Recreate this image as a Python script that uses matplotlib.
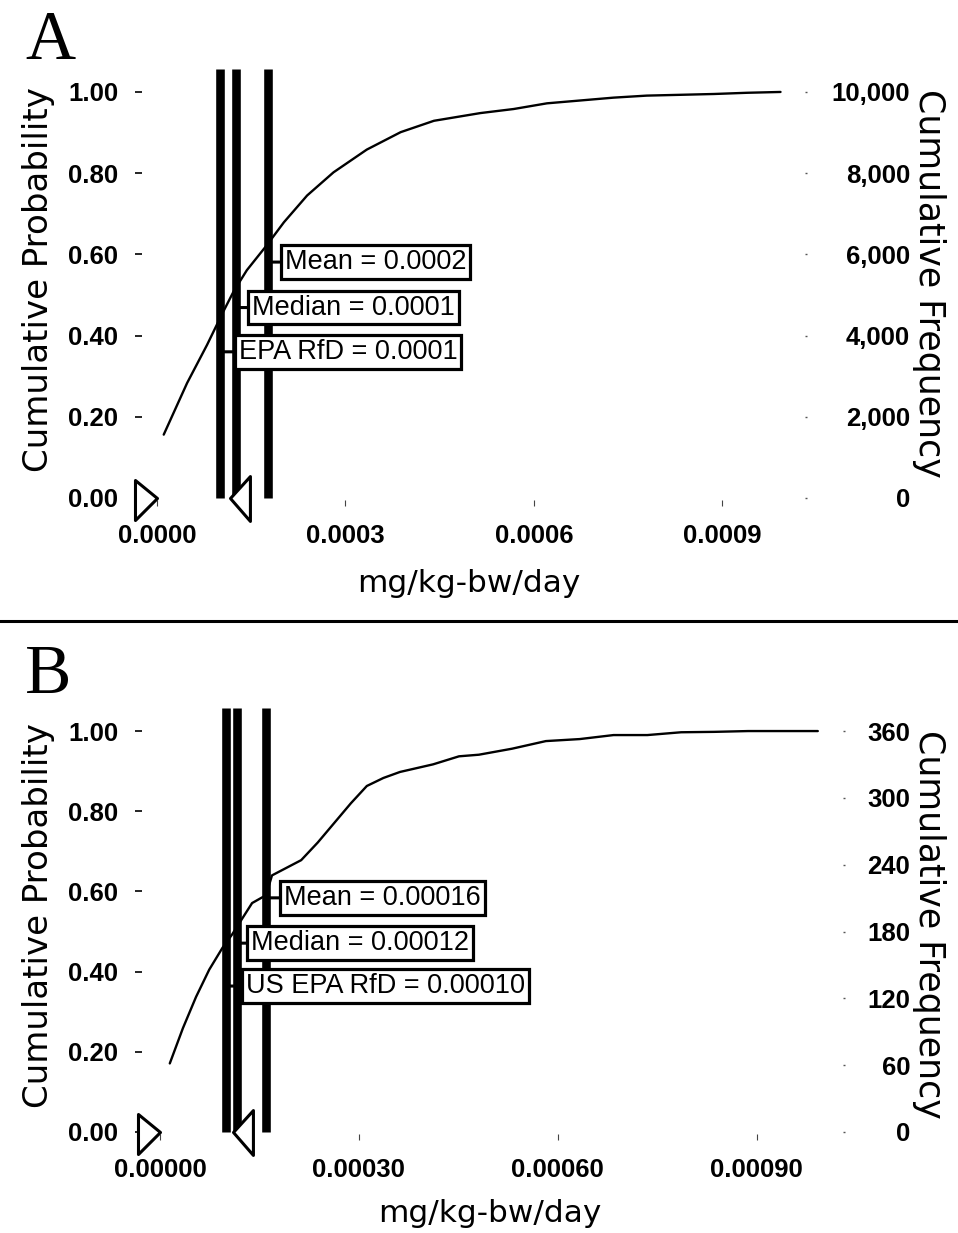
import numpy as np
import matplotlib
matplotlib.use("Agg")
import matplotlib.pyplot as plt
from matplotlib.path import Path
from matplotlib.lines import Line2D

# ---------------- data ----------------
# Panel A: cumulative distribution (mg/kg-bw/day vs cumulative probability)
a_x = [0.0000106, 0.0000478, 0.0000796, 0.0001035, 0.000122, 0.000143, 0.000175,
       0.000202, 0.000239, 0.000281, 0.000334, 0.000388, 0.000441, 0.000515,
       0.000568, 0.000621, 0.000674, 0.000727, 0.000780, 0.000834, 0.000887,
       0.000940, 0.000993]
a_p = [0.156, 0.283, 0.377, 0.453, 0.509, 0.561, 0.623,
       0.679, 0.745, 0.802, 0.858, 0.901, 0.929, 0.948,
       0.958, 0.972, 0.979, 0.986, 0.991, 0.993, 0.995,
       0.998, 1.000]

# Panel B
b_x = [0.0000149, 0.0000347, 0.0000545, 0.0000744, 0.0000942, 0.000109, 0.000124,
       0.000139, 0.000154, 0.000160, 0.000169, 0.000213, 0.000238, 0.000263,
       0.000288, 0.000312, 0.000337, 0.000362, 0.000412, 0.000451, 0.000481,
       0.000531, 0.000582, 0.000633, 0.000684, 0.000735, 0.000786, 0.000836,
       0.000887, 0.000992]
b_p = [0.171, 0.259, 0.337, 0.405, 0.459, 0.493, 0.532,
       0.571, 0.585, 0.590, 0.640, 0.678, 0.722, 0.771,
       0.820, 0.863, 0.883, 0.898, 0.917, 0.937, 0.941,
       0.956, 0.975, 0.980, 0.990, 0.990, 0.997, 0.998,
       1.000, 1.000]

# marker lines (RfD, median, mean) and their labels
a_marks = [0.000100, 0.000126, 0.000176]
a_mark_labels = ["EPA RfD = 0.0001", "Median = 0.0001", "Mean = 0.0002"]
a_mark_label_p = [0.360, 0.469, 0.581]

b_marks = [0.000100, 0.000116, 0.000160]
b_mark_labels = ["US EPA RfD = 0.00010", "Median = 0.00012", "Mean = 0.00016"]
b_mark_label_p = [0.364, 0.471, 0.584]

# certainty grabbers (min / max)
a_grab = [0.0, 0.000116]
b_grab = [0.0, 0.000110]

prob_ticks = [0.0, 0.2, 0.4, 0.6, 0.8, 1.0]
prob_ticklabels = ["0.00", "0.20", "0.40", "0.60", "0.80", "1.00"]

x_ticks = [0.0, 0.0003, 0.0006, 0.0009]
a_xticklabels = ["0.0000", "0.0003", "0.0006", "0.0009"]
b_xticklabels = ["0.00000", "0.00030", "0.00060", "0.00090"]

a_freq_total = 10000
a_freq_ticks = [0, 2000, 4000, 6000, 8000, 10000]
a_freq_ticklabels = ["0", "2,000", "4,000", "6,000", "8,000", "10,000"]
b_freq_total = 360
b_freq_ticks = [0, 60, 120, 180, 240, 300, 360]
b_freq_ticklabels = ["0", "60", "120", "180", "240", "300", "360"]

# ---------------- figure ----------------
W, H = 958, 1233
fig = plt.figure(figsize=(W / 100, H / 100), dpi=100)

SANS = ["Liberation Sans", "DejaVu Sans"]
LAB = ["DejaVu Sans"]
SERIF = ["Liberation Serif", "DejaVu Serif"]
PX = 0.72  # points per pixel


def pfrac(x0, y0, x1, y1):
    return [x0 / W, 1 - y1 / H, (x1 - x0) / W, (y1 - y0) / H]


# grabber marker shapes (apex at anchor point)
right_tri = Path([(0, 0), (-22, 18), (-22, -22), (0, 0)],
                 [Path.MOVETO, Path.LINETO, Path.LINETO, Path.CLOSEPOLY])
left_tri = Path([(0, 0), (20, 22), (20, -23), (0, 0)],
                [Path.MOVETO, Path.LINETO, Path.LINETO, Path.CLOSEPOLY])


def panel(rect, xlim, xs, ps, marks, mlabels, mlabel_p, label_offsets, grab,
          xticklabels, freq_total, freq_ticks, freq_ticklabels, right_pad_px):
    ax = fig.add_axes(rect)
    ylim = (-0.005, 1.06)
    ax.set_xlim(*xlim)
    ax.set_ylim(*ylim)
    for s in ax.spines.values():
        s.set_visible(False)

    # curve
    ax.plot(xs, ps, color="black", lw=1.7, zorder=3, solid_capstyle="round")

    # marker lines
    ax.vlines(marks, 0, 1.057, colors="black", lw=6.2, zorder=4)

    # labels
    for m, txt, p, off in zip(marks, mlabels, mlabel_p, label_offsets):
        ax.annotate(txt, xy=(m, p), xytext=(off * PX, 0), textcoords="offset points",
                    ha="left", va="center", fontsize=19.5, family=SANS,
                    bbox=dict(boxstyle="square,pad=0.14", fc="white", ec="black", lw=2.3),
                    arrowprops=dict(arrowstyle="-", lw=2.2, color="black",
                                    shrinkA=0, shrinkB=0),
                    zorder=6, annotation_clip=False)

    # grabbers
    ax.plot([grab[0]], [0], marker=right_tri, ms=31.7, mfc="white", mec="black",
            mew=2.2, ls="none", zorder=7, clip_on=False)
    ax.plot([grab[1]], [0], marker=left_tri, ms=33, mfc="white", mec="black",
            mew=2.2, ls="none", zorder=7, clip_on=False)

    # ticks
    ax.set_yticks(prob_ticks)
    ax.set_yticklabels(prob_ticklabels)
    ax.tick_params(axis="y", left=True, length=5, width=1.2, pad=12,
                   labelsize=18.5, direction="out")
    for t in ax.get_yticklabels():
        t.set_fontweight("bold")
        t.set_family(SANS)
    ax.set_xticks(x_ticks)
    ax.set_xticklabels(xticklabels)
    ax.tick_params(axis="x", bottom=True, length=4.5, width=0.8, pad=13,
                   labelsize=18.5, direction="out", color="#444444")
    for t in ax.get_xticklabels():
        t.set_fontweight("bold")
        t.set_family(SANS)

    ax2 = ax.twinx()
    ax2.set_ylim(ylim[0] * freq_total, ylim[1] * freq_total)
    for s in ax2.spines.values():
        s.set_visible(False)
    ax2.set_yticks(freq_ticks)
    ax2.set_yticklabels(freq_ticklabels)
    ax2.tick_params(axis="y", right=True, length=1.5, width=1.0, color="#555555",
                    pad=right_pad_px * PX, labelsize=18.5)
    for t in ax2.get_yticklabels():
        t.set_ha("right")
        t.set_fontweight("bold")
        t.set_family(SANS)
    return ax


# Panel A  (x=0 at 157 px, 627800 px per unit ; p=0 at 498 px, 406 px per unit)
axA = panel(pfrac(142, 67.6, 805, 500), (-0.000024, 0.001032), a_x, a_p,
            a_marks, a_mark_labels, a_mark_label_p, [19, 16, 17], a_grab,
            a_xticklabels, a_freq_total, a_freq_ticks, a_freq_ticklabels, 103)
# Panel B  (x=0 at 160 px, 663000 px per unit ; p=0 at 1132 px, 401 px per unit)
axB = panel(pfrac(142, 707, 843, 1134), (-0.000027, 0.00103), b_x, b_p,
            b_marks, b_mark_labels, b_mark_label_p, [20, 14, 18], b_grab,
            b_xticklabels, b_freq_total, b_freq_ticks, b_freq_ticklabels, 65)

# axis titles
fig.text(469 / W, 1 - 584 / H, "mg/kg-bw/day", ha="center", va="center",
         fontsize=22.4, family=LAB)
fig.text(490 / W, 1 - 1213 / H, "mg/kg-bw/day", ha="center", va="center",
         fontsize=22.4, family=LAB)
fig.text(39 / W, 1 - 280 / H, "Cumulative Probability", ha="center", va="center",
         rotation=90, fontsize=24.5, family=LAB)
fig.text(39 / W, 1 - 916 / H, "Cumulative Probability", ha="center", va="center",
         rotation=90, fontsize=24.5, family=LAB)
fig.text(929 / W, 1 - 283 / H, "Cumulative Frequency", ha="center", va="center",
         rotation=-90, fontsize=25, family=LAB)
fig.text(929 / W, 1 - 924 / H, "Cumulative Frequency", ha="center", va="center",
         rotation=-90, fontsize=25, family=LAB)

# panel letters
fig.text(25 / W, 1 - 59 / H, "A", ha="left", va="baseline", fontsize=50, family=SERIF)
fig.text(25 / W, 1 - 693 / H, "B", ha="left", va="baseline", fontsize=50, family=SERIF)

# separator rule
fig.add_artist(Line2D([0, 1], [1 - 621 / H, 1 - 621 / H], transform=fig.transFigure,
                      color="black", lw=2.2))

fig.savefig("out.png", dpi=100, facecolor="white")
